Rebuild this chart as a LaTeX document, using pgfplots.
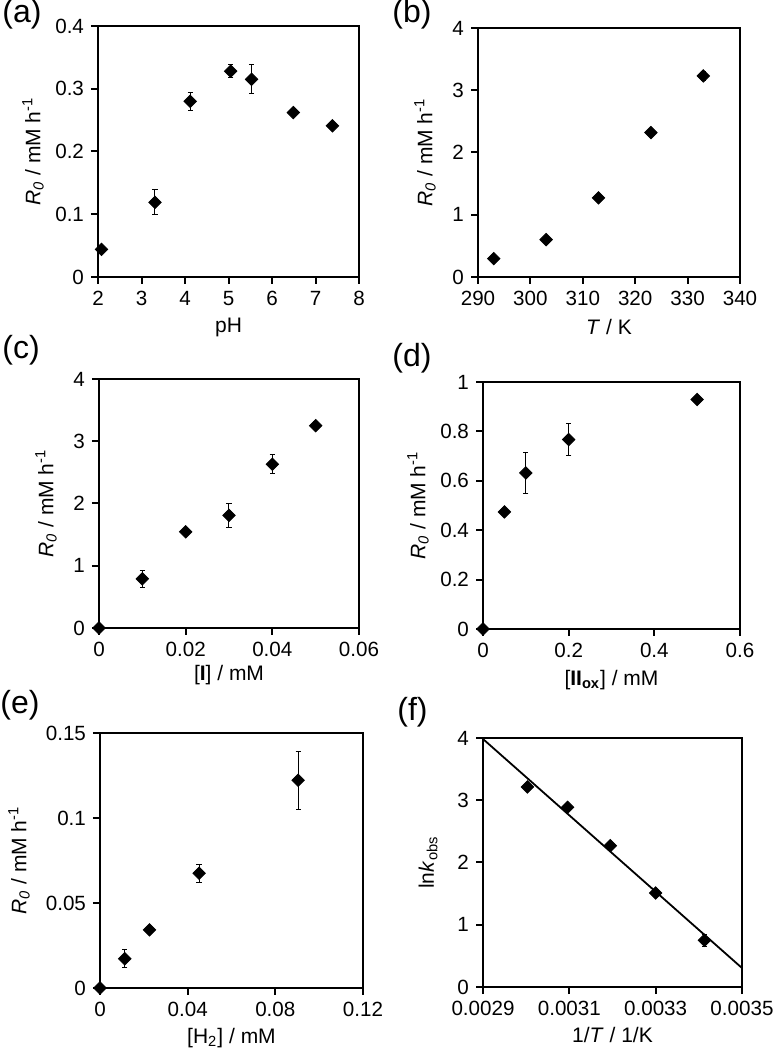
\documentclass[border=0pt]{standalone}
\usepackage{fontspec}
\setmainfont{Liberation Sans}
\usepackage{pgfplots}
\pgfplotsset{compat=1.18}
\pgfplotsset{
  panel/.style={
    scale only axis, anchor=south west, clip=false,
    axis line style={line width=1pt},
    tick align=outside, major tick length=3.5pt,
    every tick/.style={line width=1pt, black},
    xtick pos=bottom, ytick pos=left,
    scaled ticks=false,
    /pgf/number format/fixed, /pgf/number format/precision=4,
    /pgf/number format/assume math mode=true,
    tick label style={font=\fontsize{10.3}{12}\selectfont},
    label style={font=\fontsize{10.5}{12}\selectfont},
    xlabel style={at={(axis description cs:0.5,-0.2)}, anchor=center},
  },
  pts/.style={
    only marks, black, mark=square*, mark size=2.2pt,
    mark options={rotate=45, fill=black},
    error bars/.cd, y dir=both, y explicit,
    error bar style={line width=0.5pt, black},
    error mark options={rotate=90, mark size=1.3pt, line width=0.5pt},
  },
}
\newcommand{\Rlab}{\textit{R}\textsubscript{\textit{0}} / mM h\textsuperscript{-1}}
\begin{document}
\begin{tikzpicture}[x=1pt,y=1pt]
\path[use as bounding box] (0,0) rectangle (388,527.5);
\tikzset{plab/.style={anchor=north west, inner sep=0pt, font=\fontsize{16}{18}\selectfont}}
% (a)
\begin{axis}[panel, at={(49pt,389pt)}, width=130.5pt, height=125.5pt,
  xmin=2, xmax=8, ymin=0, ymax=0.4,
  xtick={2,3,4,5,6,7,8}, ytick={0,0.1,0.2,0.3,0.4},
  xlabel={pH}, ylabel={\Rlab},
  ylabel style={at={(axis description cs:-0.249,0.5)}, anchor=center}]
\addplot+[pts] coordinates {
 (2.08,0.044) +- (0,0)
 (3.31,0.119) +- (0,0.020)
 (4.12,0.280) +- (0,0.014)
 (5.05,0.328) +- (0,0.010)
 (5.53,0.315) +- (0,0.023)
 (6.49,0.262) +- (0,0.005)
 (7.39,0.241) +- (0,0.004)
};
\end{axis}
\node[plab] at (1,528) {(a)};
% (b)
\begin{axis}[panel, at={(239pt,389pt)}, width=131pt, height=124.5pt,
  xmin=290, xmax=340, ymin=0, ymax=4,
  xtick={290,300,310,320,330,340}, ytick={0,1,2,3,4},
  xlabel={\textit{T} / K}, ylabel={\Rlab},
  ylabel style={at={(axis description cs:-0.202,0.5)}, anchor=center}]
\addplot+[pts] coordinates {
 (293,0.295) +- (0,0.03)
 (303,0.60) +- (0,0.03)
 (313,1.27) +- (0,0.04)
 (323,2.32) +- (0,0.05)
 (333,3.23) +- (0,0.07)
};
\end{axis}
\node[plab] at (196,528) {(b)};
% (c)
\begin{axis}[panel, at={(49.5pt,213.5pt)}, width=130pt, height=124.5pt,
  xmin=0, xmax=0.06, ymin=0, ymax=4,
  xtick={0,0.02,0.04,0.06}, ytick={0,1,2,3,4},
  xlabel={[\textbf{I}] / mM}, ylabel={\Rlab},
  xlabel style={at={(axis description cs:0.5,-0.189)}},
  ylabel style={at={(axis description cs:-0.204,0.5)}, anchor=center}]
\addplot+[pts] coordinates {
 (0,0) +- (0,0)
 (0.01,0.79) +- (0,0.14)
 (0.02,1.545) +- (0,0.04)
 (0.03,1.81) +- (0,0.19)
 (0.04,2.63) +- (0,0.15)
 (0.05,3.25) +- (0,0.06)
};
\end{axis}
\node[plab] at (1,360) {(c)};
% (d)
\begin{axis}[panel, at={(241.5pt,213pt)}, width=128.5pt, height=123.5pt,
  xmin=0, xmax=0.6, ymin=0, ymax=1,
  xtick={0,0.2,0.4,0.6}, ytick={0,0.2,0.4,0.6,0.8,1},
  xlabel={[\textbf{II\textsubscript{ox}}] / mM}, ylabel={\Rlab},
  xlabel style={at={(axis description cs:0.5,-0.206)}},
  ylabel style={at={(axis description cs:-0.253,0.5)}, anchor=center}]
\addplot+[pts] coordinates {
 (0,0) +- (0,0)
 (0.05,0.474) +- (0,0.01)
 (0.1,0.632) +- (0,0.084)
 (0.2,0.767) +- (0,0.065)
 (0.5,0.929) +- (0,0.01)
};
\end{axis}
\node[plab] at (196,356) {(d)};
% (e)
\begin{axis}[panel, at={(50pt,33.5pt)}, width=131.5pt, height=127.5pt,
  xmin=0, xmax=0.12, ymin=0, ymax=0.15,
  xtick={0,0.04,0.08,0.12}, ytick={0,0.05,0.1,0.15},
  xlabel={[H\textsubscript{2}] / mM}, ylabel={\Rlab},
  xlabel style={at={(axis description cs:0.5,-0.196)}},
  ylabel style={at={(axis description cs:-0.308,0.5)}, anchor=center}]
\addplot+[pts] coordinates {
 (0,0) +- (0,0)
 (0.0113,0.0172) +- (0,0.0053)
 (0.0226,0.0342) +- (0,0.001)
 (0.0452,0.0675) +- (0,0.0054)
 (0.0904,0.1222) +- (0,0.017)
};
\end{axis}
\node[plab] at (0,182.5) {(e)};
% (f)
\begin{axis}[panel, at={(241.5pt,34pt)}, width=129.5pt, height=124.5pt,
  xmin=0.0029, xmax=0.0035, ymin=0, ymax=4,
  xtick={0.0029,0.0031,0.0033,0.0035}, ytick={0,1,2,3,4},
  xticklabels={0.0029,0.0031,0.0033,0.0035},
  xlabel={1/\textit{T} / 1/K}, ylabel={ln\textit{k}\textsubscript{obs}},
  xlabel style={at={(axis description cs:0.5,-0.193)}},
  ylabel style={at={(axis description cs:-0.212,0.5)}, anchor=center}]
\addplot[black, line width=0.9pt] coordinates {(0.0029,3.984) (0.0035,0.305)};
\addplot+[pts] coordinates {
 (0.003003,3.213) +- (0,0.04)
 (0.003096,2.886) +- (0,0.04)
 (0.003195,2.27) +- (0,0.05)
 (0.003300,1.51) +- (0,0.05)
 (0.003413,0.75) +- (0,0.10)
};
\end{axis}
\node[plab] at (198.5,179) {(f)};
\end{tikzpicture}
\end{document}
